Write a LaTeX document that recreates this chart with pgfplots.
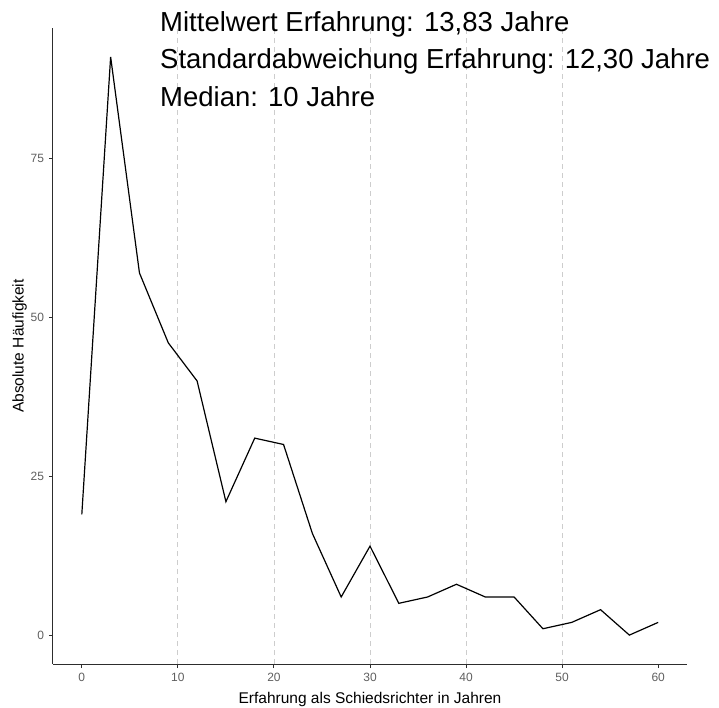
\documentclass[border=0pt]{standalone}
\usepackage{fontspec}
\setmainfont{Liberation Sans}
\usepackage{pgfplots}
\pgfplotsset{compat=1.18}
\definecolor{tickgray}{RGB}{95,95,95}
\definecolor{gridgray}{RGB}{205,205,205}
\definecolor{axisgray}{RGB}{45,45,45}
\begin{document}
\begin{tikzpicture}
\path[use as bounding box] (-53pt,-43pt) rectangle (666pt,664pt);
\begin{axis}[
  at={(0pt,0pt)}, anchor=south west,
  scale only axis, width=634pt, height=636pt,
  xmin=-3, xmax=63, ymin=-4.55, ymax=95.55,
  axis x line*=bottom, axis y line*=left,
  axis line style={draw=axisgray, line width=1pt},
  xtick={0,10,20,30,40,50,60}, ytick={0,25,50,75},
  tick align=outside, major tick length=4pt,
  tick style={draw=axisgray, line width=0.9pt},
  /pgf/number format/assume math mode=true,
  every tick label/.append style={font=\fontsize{12}{12}\selectfont, text=tickgray},
  xticklabel style={yshift=-1.5pt},
  yticklabel style={xshift=-1.5pt},
  extra x ticks={10,20,30,40,50}, extra x tick labels={},
  extra x tick style={grid=major, major tick length=0pt,
    major grid style={draw=gridgray, dash pattern=on 5pt off 4pt, line width=0.8pt}},
  xlabel={Erfahrung als Schiedsrichter in Jahren},
  ylabel={Absolute Häufigkeit},
  label style={font=\fontsize{15.5}{15.5}\selectfont, text=black},
  xlabel style={yshift=0pt},
  ylabel style={yshift=-3pt},
]
\addplot[black, line width=1.2pt, mark=none] coordinates {
(0,19)(3,91)(6,57)(9,46)(12,40)(15,21)(18,31)(21,30)(24,16)(27,6)(30,14)
(33,5)(36,6)(39,8)(42,6)(45,6)(48,1)(51,2)(54,4)(57,0)(60,2)
};
\end{axis}
\node[anchor=base west, inner sep=0pt, font=\fontsize{27.5}{27.5}\selectfont] at (107pt,632pt) {Mittelwert Erfahrung: 13,83 Jahre};
\node[anchor=base west, inner sep=0pt, font=\fontsize{27.5}{27.5}\selectfont] at (107pt,595pt) {Standardabweichung Erfahrung: 12,30 Jahre};
\node[anchor=base west, inner sep=0pt, font=\fontsize{27.5}{27.5}\selectfont] at (107pt,557pt) {Median: 10 Jahre};
\end{tikzpicture}
\end{document}
